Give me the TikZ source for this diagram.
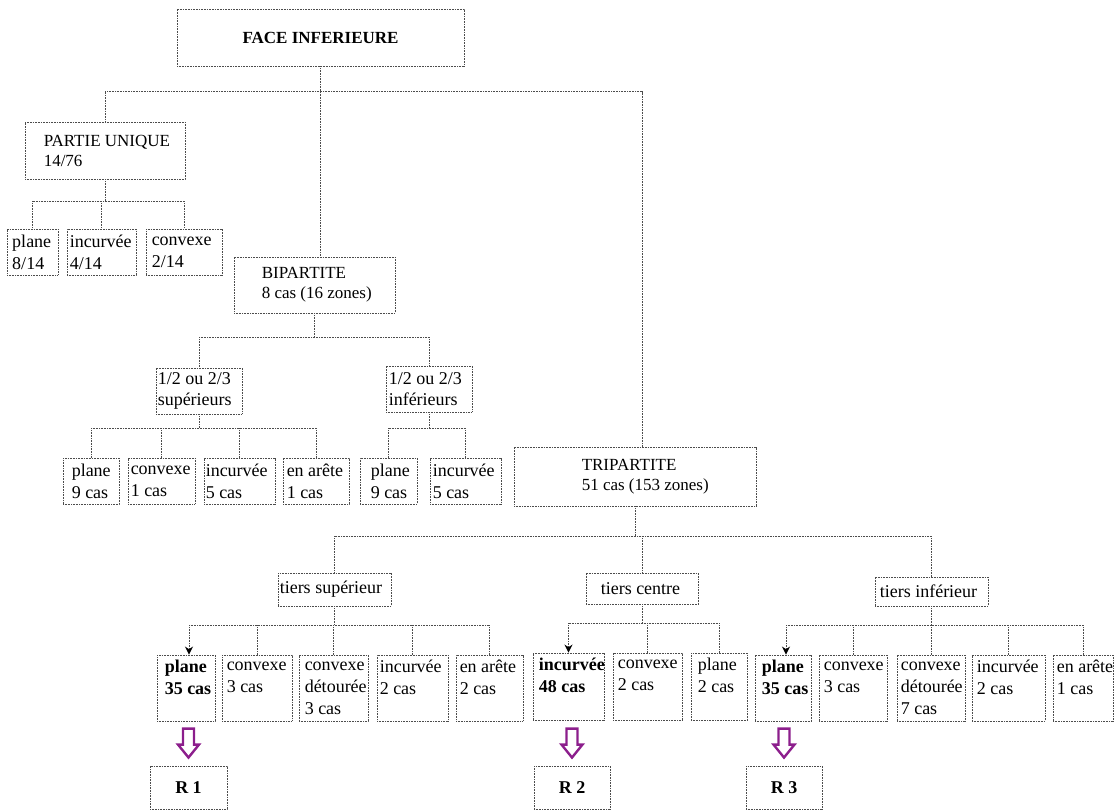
\documentclass[tikz,border=0pt]{standalone}
\usepackage{fontspec}
\setmainfont{Liberation Serif}
\usetikzlibrary{arrows.meta,calc}
\definecolor{arrpurple}{RGB}{140,30,140}
\tikzset{
  dline/.style={draw=black!70, line width=0.9pt, dash pattern=on 1pt off 0.6pt},
  box/.style={dline, rectangle, inner sep=0pt},
  txt/.style={inner sep=0pt, align=left, font=\fontsize{18}{22}\selectfont},
  hdr/.style={font=\fontsize{17}{20}\selectfont},
  half/.style={font=\fontsize{18}{21}\selectfont},
  bld/.style={font=\bfseries\fontsize{18}{22}\selectfont},
  conn/.style={dline},
  tipped/.style={-{Stealth[length=8pt,width=8pt,black]}},
  parr/.style={draw=arrpurple, line width=2.4pt, line join=miter},
}
% #1 text style, #2 name, #3 x1, #4 y1, #5 x2, #6 y2, #7 left pad, #8 text
\newcommand\bx[8][]{%
  \node[box, minimum width={#5-#3}, minimum height={#6-#4}] (#2) at ({(#3+#5)/2},{(#4+#6)/2}) {};
  \node[txt, #1, anchor=west] (#2-t) at ([xshift=#7 pt]#2.west) {#8};}
\newcommand\parrow[1]{%
  \draw[parr] ([shift={(-5.5,-37)}]#1.north) -- ++(11,0) -- ++(0,16) -- ++(5,0)
     -- ++(-10.5,13) -- ++(-10.5,-13) -- ++(5,0) -- cycle;}
\begin{document}
\begin{tikzpicture}[x=1pt,y=-1pt]
\useasboundingbox (0,0) rectangle (1115,810);
% root
\node[box, minimum width=287, minimum height=57, font=\bfseries\fontsize{17}{20}\selectfont] (root) at (320.5,37.5) {FACE INFERIEURE};
% level 1
\bx[hdr]{pu}{25}{122}{185}{179}{19}{PARTIE UNIQUE\\14/76}
\bx[hdr]{bi}{234}{257}{395}{313}{28}{BIPARTITE\\8 cas (16 zones)}
\bx[hdr]{tri}{514}{447}{756}{506}{68}{TRIPARTITE\\51 cas (153 zones)}
% partie unique children
\bx{pu1}{7}{229}{58}{275}{5.5}{plane\\8/14}
\bx{pu2}{67}{229}{136}{275}{3}{incurvée\\4/14}
\bx{pu3}{146}{229}{222}{275}{6}{convexe\\2/14}
% bipartite children
\bx[half]{bi1}{156}{368}{242}{414}{2}{1/2 ou 2/3\\supérieurs}
\bx[half]{bi2}{386}{366}{472}{412}{3}{1/2 ou 2/3\\inférieurs}
\bx{s1}{63}{458}{119}{504}{9}{plane\\9 cas}
\bx{s2}{128}{458}{195}{504}{3}{convexe\\1 cas}
\bx{s3}{204}{458}{275}{504}{2}{incurvée\\5 cas}
\bx{s4}{283}{458}{349}{504}{4}{en arête\\1 cas}
\bx{i1}{360}{458}{417}{504}{11}{plane\\9 cas}
\bx{i2}{430}{458}{501}{504}{3}{incurvée\\5 cas}
% tripartite children
\bx{t1}{278}{573}{391}{606}{2}{tiers supérieur}
\bx{t2}{586}{573}{698}{604}{15}{tiers centre}
\bx{t3}{875}{577}{988}{606}{5}{tiers inférieur}
\bx[bld]{a1}{157}{655}{215}{721}{8}{plane\\35 cas\\\mbox{}}
\bx{a2}{222}{655}{292}{721}{5}{convexe\\3 cas\\\mbox{}}
\bx{a3}{299}{655}{368}{721}{6}{convexe\\détourée\\3 cas}
\bx{a4}{377}{655}{448}{721}{3}{incurvée\\2 cas\\\mbox{}}
\bx{a5}{456}{655}{523}{721}{4}{en arête\\2 cas\\\mbox{}}
\bx[bld]{b1}{533}{653}{604}{720}{6}{incurvée\\48 cas\\\mbox{}}
\bx{b2}{613}{653}{682}{720}{5}{convexe\\2 cas\\\mbox{}}
\bx{b3}{691}{653}{747}{720}{7}{plane\\2 cas\\\mbox{}}
\bx[bld]{c1}{755}{655}{811}{721}{7}{plane\\35 cas\\\mbox{}}
\bx{c2}{819}{655}{887}{721}{5}{convexe\\3 cas\\\mbox{}}
\bx{c3}{897}{655}{965}{721}{4}{convexe\\détourée\\7 cas}
\bx{c4}{972}{655}{1045}{721}{5}{incurvée\\2 cas\\\mbox{}}
\bx{c5}{1053}{655}{1113}{721}{4}{en arête\\1 cas\\\mbox{}}
% result boxes
\node[box, minimum width=77, minimum height=43, font=\bfseries\fontsize{18}{22}\selectfont] (r1) at (188.5,787.5) {R 1};
\node[box, minimum width=76, minimum height=43, font=\bfseries\fontsize{18}{22}\selectfont] (r2) at (572,787.5) {R 2};
\node[box, minimum width=76, minimum height=43, font=\bfseries\fontsize{18}{22}\selectfont] (r3) at (784,787.5) {R 3};
% connectors: root
\draw[conn] (root.south) -- (root.south |- bi.north);
\draw[conn] (pu.north) -- ++(0,-30) -| ([xshift=7pt]tri.north);
% partie unique
\draw[conn] (pu.south) -- ++(0,22) coordinate (bpu);
\draw[conn] (pu1.north |- bpu) -- (pu3.north |- bpu);
\foreach \n in {pu1,pu2,pu3} \draw[conn] (\n.north |- bpu) -- (\n.north);
% bipartite
\draw[conn] (bi.south) -- ++(0,24) coordinate (bbi);
\draw[conn] (bi1.north |- bbi) -- (bi2.north |- bbi);
\foreach \n in {bi1,bi2} \draw[conn] (\n.north |- bbi) -- (\n.north);
\draw[conn] (bi1.south) -- ++(0,14) coordinate (bs);
\draw[conn] (s1.north |- bs) -- (s4.north |- bs);
\foreach \n in {s1,s2,s3,s4} \draw[conn] (\n.north |- bs) -- (\n.north);
\draw[conn] (bi2.south) -- ++(0,16) coordinate (bin);
\draw[conn] (i1.north |- bin) -- (i2.north |- bin);
\foreach \n in {i1,i2} \draw[conn] (\n.north |- bin) -- (\n.north);
% tripartite
\draw[conn] (tri.south) -- ++(0,30) coordinate (btr);
\draw[conn] (t1.north |- btr) -- (t3.north |- btr);
\foreach \n in {t1,t2,t3} \draw[conn] (\n.north |- btr) -- (\n.north);
\draw[conn] (t1.south) -- ++(0,19) coordinate (ba);
\draw[conn] ([xshift=3pt]a1.north |- ba) -- (a5.north |- ba);
\draw[conn, tipped] ([xshift=3pt]a1.north |- ba) -- ([xshift=3pt]a1.north);
\foreach \n in {a2,a3,a4,a5} \draw[conn] (\n.north |- ba) -- (\n.north);
\draw[conn] (t2.south) -- ++(0,19) coordinate (bb);
\draw[conn] (b1.north |- bb) -- (b3.north |- bb);
\draw[conn, tipped] (b1.north |- bb) -- (b1.north);
\foreach \n in {b2,b3} \draw[conn] (\n.north |- bb) -- (\n.north);
\draw[conn] (t3.south) -- ++(0,19) coordinate (bc);
\draw[conn] ([xshift=3pt]c1.north |- bc) -- (c5.north |- bc);
\draw[conn, tipped] ([xshift=3pt]c1.north |- bc) -- ([xshift=3pt]c1.north);
\foreach \n in {c2,c3,c4,c5} \draw[conn] (\n.north |- bc) -- (\n.north);
% purple arrows
\parrow{r1}
\parrow{r2}
\parrow{r3}
\end{tikzpicture}
\end{document}
